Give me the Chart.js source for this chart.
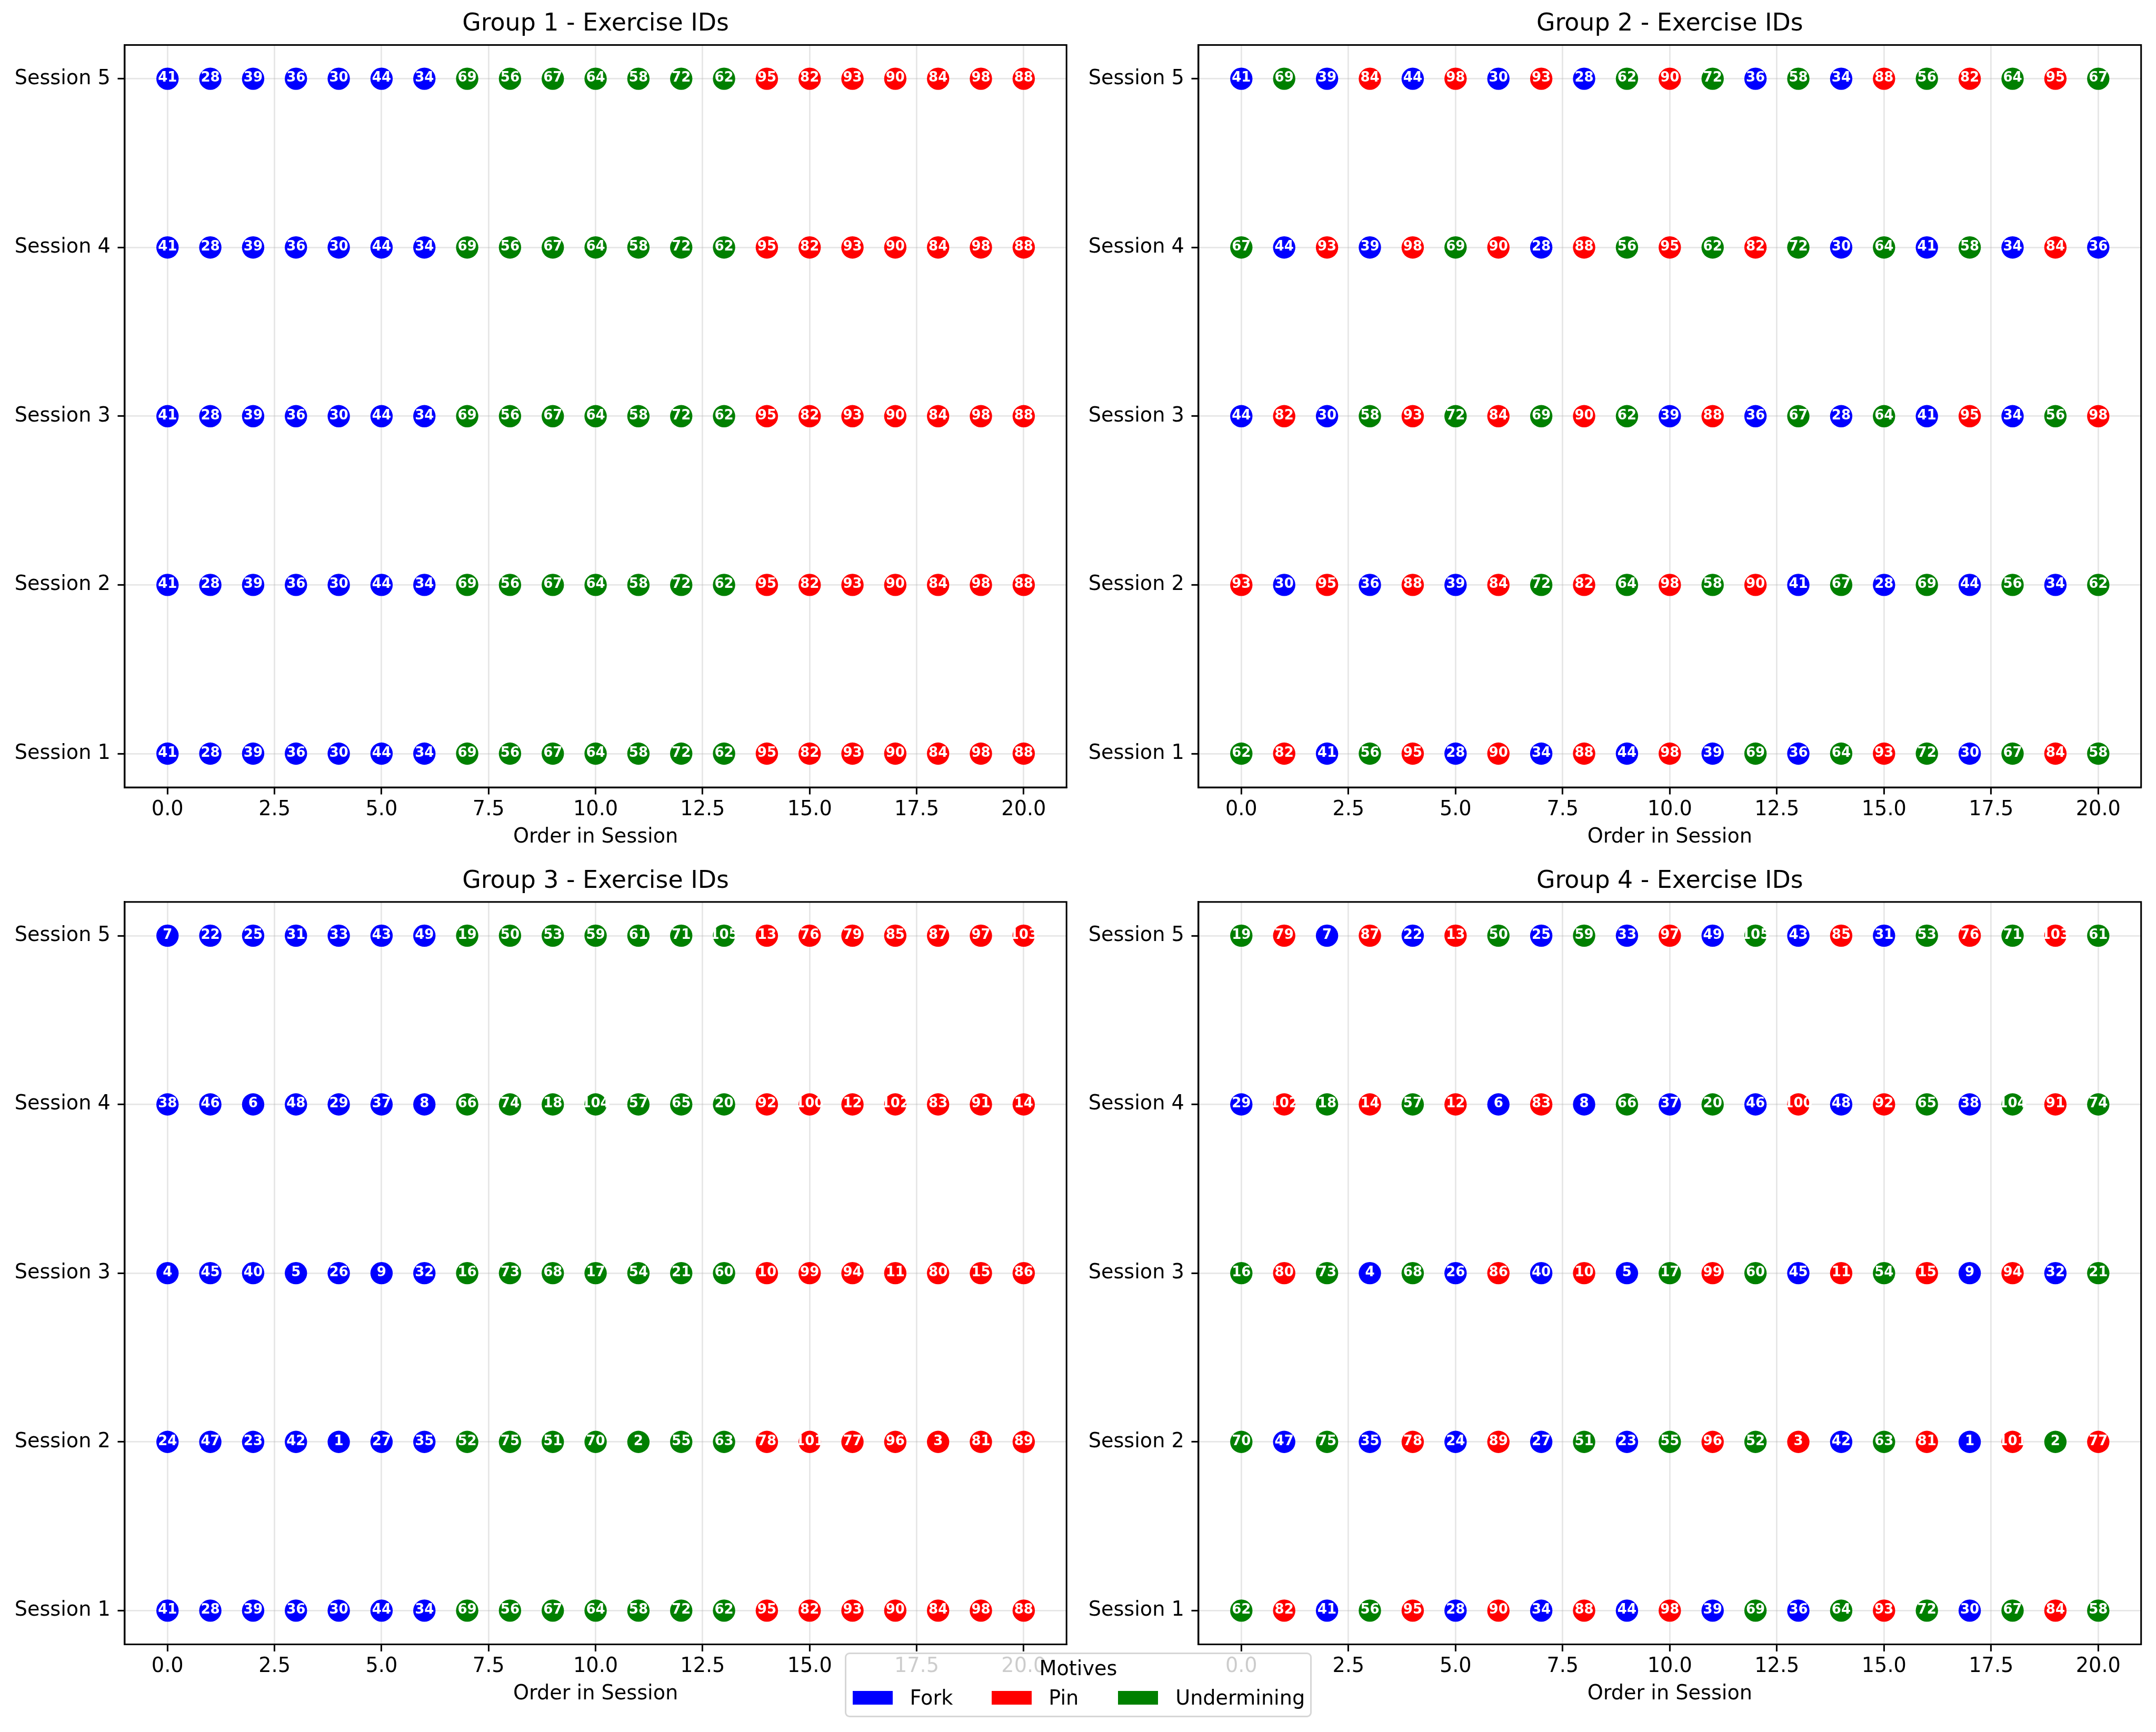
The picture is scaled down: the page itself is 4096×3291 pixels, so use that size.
<!DOCTYPE html>
<html>
<head>
<meta charset="utf-8">
<script src="https://cdn.jsdelivr.net/npm/chart.js@4.4.1/dist/chart.umd.min.js"></script>
<style>
  html, body { margin: 0; padding: 0; background: #ffffff; }
  body { width: 4096px; height: 3291px; position: relative; overflow: hidden; font-family: "DejaVu Sans", sans-serif; }
  canvas { position: absolute; }
  .lg { position: absolute; }
  .lgtext { position: absolute; font-size: 38.2px; line-height: 46px; color: #000; white-space: nowrap; }
  .lgpatch { position: absolute; width: 76px; height: 25.6px; }
</style>
</head>
<body>
<canvas id="c1" width="2048" height="1640" style="left:0px;top:0px"></canvas>
<canvas id="c2" width="2048" height="1640" style="left:2048px;top:0px"></canvas>
<canvas id="c3" width="2048" height="1651" style="left:0px;top:1640px"></canvas>
<canvas id="c4" width="2048" height="1651" style="left:2048px;top:1640px"></canvas>

<div class="lg" style="left:1605px;top:3140px;width:887px;height:123px;box-sizing:border-box;border:3px solid rgba(204,204,204,0.8);border-radius:9px;background:rgba(255,255,255,0.8);"></div>
<div class="lgtext" style="left:1605px;top:3147px;width:887px;text-align:center;">Motives</div>
<div class="lgpatch" style="left:1619.5px;top:3213.2px;background:#0000ff;"></div>
<div class="lgtext" style="left:1728.5px;top:3203px;">Fork</div>
<div class="lgpatch" style="left:1884.2px;top:3213.2px;background:#ff0000;"></div>
<div class="lgtext" style="left:1992.3px;top:3203px;">Pin</div>
<div class="lgpatch" style="left:2124.2px;top:3213.2px;background:#008000;"></div>
<div class="lgtext" style="left:2233.2px;top:3203px;">Undermining</div>

<script>
// ---------------- DATA ----------------
const sessionLabels = ['Session 1', 'Session 2', 'Session 3', 'Session 4', 'Session 5'];
const xTickValues = [0, 2.5, 5, 7.5, 10, 12.5, 15, 17.5, 20];
const groupTitles = ['Group 1 - Exercise IDs', 'Group 2 - Exercise IDs', 'Group 3 - Exercise IDs', 'Group 4 - Exercise IDs'];
const motiveNames = ['Fork', 'Pin', 'Undermining'];
const motiveColors = ['#0000ff', '#ff0000', '#008000'];

// exercise IDs belonging to each motive
const forkIds = [1,4,5,6,7,8,9,22,23,24,25,26,27,28,29,30,31,32,33,34,35,36,37,38,39,40,41,42,43,44,45,46,47,48,49];
const pinIds = [3,10,11,12,13,14,15,76,77,78,79,80,81,82,83,84,85,86,87,88,89,90,91,92,93,94,95,96,97,98,99,100,101,102,103];
const underminingIds = [2,16,17,18,19,20,21,50,51,52,53,54,55,56,57,58,59,60,61,62,63,64,65,66,67,68,69,70,71,72,73,74,75,104,105];

// exercise order per session (index = order in session), sessions 1..5
const group1Sessions = [
  [41,28,39,36,30,44,34,69,56,67,64,58,72,62,95,82,93,90,84,98,88],
  [41,28,39,36,30,44,34,69,56,67,64,58,72,62,95,82,93,90,84,98,88],
  [41,28,39,36,30,44,34,69,56,67,64,58,72,62,95,82,93,90,84,98,88],
  [41,28,39,36,30,44,34,69,56,67,64,58,72,62,95,82,93,90,84,98,88],
  [41,28,39,36,30,44,34,69,56,67,64,58,72,62,95,82,93,90,84,98,88]
];
const group2Sessions = [
  [62,82,41,56,95,28,90,34,88,44,98,39,69,36,64,93,72,30,67,84,58],
  [93,30,95,36,88,39,84,72,82,64,98,58,90,41,67,28,69,44,56,34,62],
  [44,82,30,58,93,72,84,69,90,62,39,88,36,67,28,64,41,95,34,56,98],
  [67,44,93,39,98,69,90,28,88,56,95,62,82,72,30,64,41,58,34,84,36],
  [41,69,39,84,44,98,30,93,28,62,90,72,36,58,34,88,56,82,64,95,67]
];
const group3Sessions = [
  [41,28,39,36,30,44,34,69,56,67,64,58,72,62,95,82,93,90,84,98,88],
  [24,47,23,42,1,27,35,52,75,51,70,2,55,63,78,101,77,96,3,81,89],
  [4,45,40,5,26,9,32,16,73,68,17,54,21,60,10,99,94,11,80,15,86],
  [38,46,6,48,29,37,8,66,74,18,104,57,65,20,92,100,12,102,83,91,14],
  [7,22,25,31,33,43,49,19,50,53,59,61,71,105,13,76,79,85,87,97,103]
];
const group4Sessions = [
  [62,82,41,56,95,28,90,34,88,44,98,39,69,36,64,93,72,30,67,84,58],
  [70,47,75,35,78,24,89,27,51,23,55,96,52,3,42,63,81,1,101,2,77],
  [16,80,73,4,68,26,86,40,10,5,17,99,60,45,11,54,15,9,94,32,21],
  [29,102,18,14,57,12,6,83,8,66,37,20,46,100,48,92,65,38,104,91,74],
  [19,79,7,87,22,13,50,25,59,33,97,49,105,43,85,31,53,76,71,103,61]
];

// ---------------- CHARTS ----------------
Chart.defaults.font.family = '"DejaVu Sans", sans-serif';
Chart.defaults.color = '#000';

const motiveIdLists = [forkIds, pinIds, underminingIds];

function buildDatasets(sessions) {
  return motiveNames.map((name, m) => {
    const pts = [];
    sessions.forEach((row, s) => {
      row.forEach((id, order) => {
        if (motiveIdLists[m].includes(id)) pts.push({ x: order, y: s + 1, id: id });
      });
    });
    return {
      label: name,
      data: pts,
      backgroundColor: motiveColors[m],
      borderWidth: 0,
      pointRadius: 21.2,
      pointHoverRadius: 21.2,
      pointBorderWidth: 0
    };
  });
}

const idLabelPlugin = {
  id: 'idLabels',
  afterDraw(chart) {
    const ctx = chart.ctx;
    ctx.save();
    ctx.font = 'bold 26px "DejaVu Sans"';
    ctx.fillStyle = '#ffffff';
    ctx.textAlign = 'center';
    ctx.textBaseline = 'middle';
    chart.data.datasets.forEach((ds, i) => {
      const meta = chart.getDatasetMeta(i);
      meta.data.forEach((el, j) => {
        ctx.fillText(String(ds.data[j].id), el.x, el.y - 1);
      });
    });
    ctx.restore();
  }
};

const framePlugin = {
  id: 'frame',
  afterDraw(chart) {
    const a = chart.chartArea;
    const ctx = chart.ctx;
    ctx.save();
    ctx.strokeStyle = '#000';
    ctx.lineWidth = 3.05;
    ctx.strokeRect(a.left, a.top, a.right - a.left, a.bottom - a.top);
    ctx.restore();
  }
};

const gridColor = 'rgba(176,176,176,0.32)';

function makeChart(canvasId, title, sessions, cfg) {
  return new Chart(document.getElementById(canvasId), {
    type: 'scatter',
    data: { datasets: buildDatasets(sessions) },
    options: {
      responsive: false,
      animation: false,
      devicePixelRatio: 1,
      events: [],
      layout: { padding: { left: 0, right: cfg.padRight, top: 0, bottom: cfg.padBottom } },
      plugins: {
        legend: { display: false },
        tooltip: { enabled: false },
        title: {
          display: true,
          text: title,
          fullSize: false,
          color: '#000',
          font: { size: 45.8, weight: 'normal', lineHeight: 1 },
          padding: { top: cfg.titleTop, bottom: cfg.titleBottom }
        }
      },
      scales: {
        x: {
          type: 'linear',
          min: -1,
          max: 21,
          z: 1,
          afterBuildTicks: (s) => { s.ticks = xTickValues.map(v => ({ value: v })); },
          afterFit: (s) => { s.height = 117.9; },
          ticks: {
            callback: (v) => Number(v).toFixed(1),
            color: '#000',
            font: { size: 38.2, lineHeight: 1.2 },
            padding: 6.7,
            maxRotation: 0,
            minRotation: 0,
            autoSkip: false
          },
          grid: { color: gridColor, lineWidth: 2.8, tickColor: '#000', tickWidth: 3.05, tickLength: 13.4, drawTicks: true },
          border: { display: true, color: '#000', width: 3.05 },
          title: { display: true, text: 'Order in Session', color: '#000', font: { size: 38.2, lineHeight: 1.2 }, padding: { top: 0, bottom: 0 } }
        },
        y: {
          type: 'linear',
          min: 0.8,
          max: 5.2,
          z: 1,
          afterBuildTicks: (s) => { s.ticks = sessionLabels.map((_, i) => ({ value: i + 1 })); },
          afterFit: (s) => { s.width = cfg.yWidth; },
          ticks: {
            callback: (v) => sessionLabels[Math.round(v) - 1],
            color: '#000',
            font: { size: 38.2, lineHeight: 1.2 },
            padding: 13.7,
            autoSkip: false
          },
          grid: { color: gridColor, lineWidth: 2.8, tickColor: '#000', tickWidth: 3.05, tickLength: 13.4, drawTicks: true },
          border: { display: true, color: '#000', width: 3.05 }
        }
      }
    },
    plugins: [idLabelPlugin, framePlugin]
  });
}

makeChart('c1', groupTitles[0], group1Sessions, { yWidth: 236.9, padRight: 21.8, padBottom: 26.0, titleTop: 23.4, titleBottom: 16.3 });
makeChart('c2', groupTitles[1], group2Sessions, { yWidth: 228.9, padRight: 28.3, padBottom: 26.0, titleTop: 23.4, titleBottom: 16.3 });
makeChart('c3', groupTitles[2], group3Sessions, { yWidth: 236.9, padRight: 21.8, padBottom: 48.6, titleTop: 12.0, titleBottom: 16.0 });
makeChart('c4', groupTitles[3], group4Sessions, { yWidth: 228.9, padRight: 28.3, padBottom: 48.6, titleTop: 12.0, titleBottom: 16.0 });
</script>
</body>
</html>
